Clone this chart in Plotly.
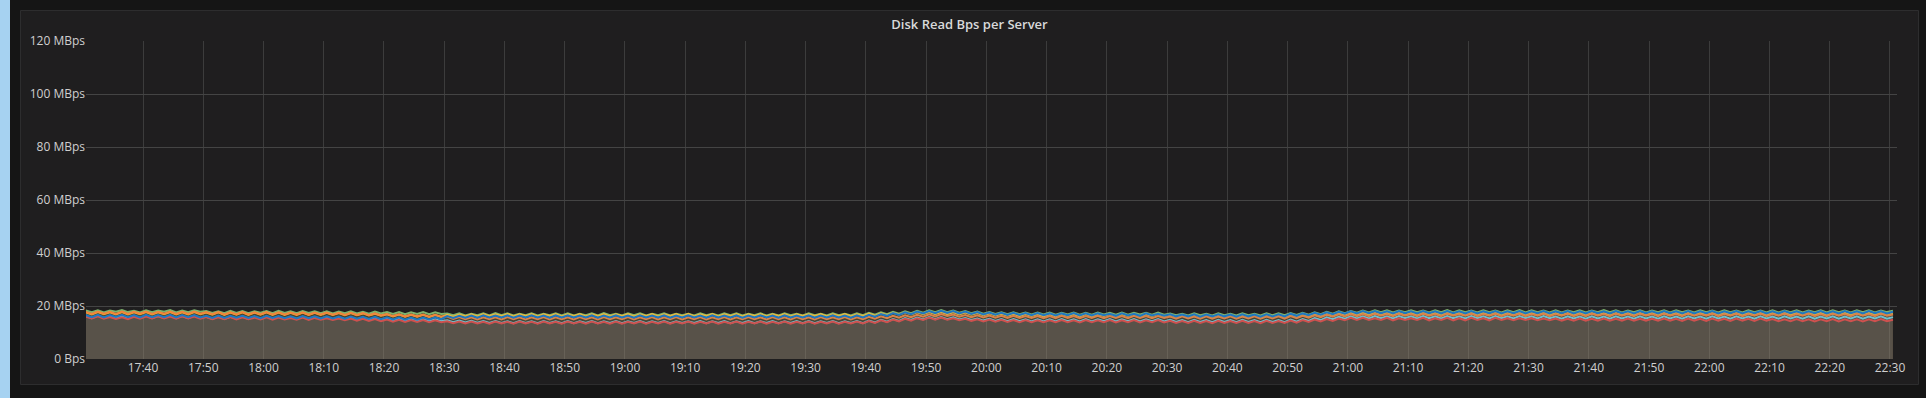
import pandas as pd
import plotly.graph_objects as go

# ---------------- data (values in tenths of MBps, one sample per minute) ----------------
start_time = "2024-01-01 17:30:30"
series_names = ["server-1", "server-2", "server-3", "server-4", "server-5", "server-6"]
series_colors = ["#7EB26D", "#EAB839", "#6ED0E0", "#EF843C", "#E24D42", "#1F78C1"]

green = [
183,177,184,176,183,178,185,177,182,176,184,177,183,178,185,176,183,177,184,178,
181,174,180,173,182,174,181,173,180,175,181,173,182,174,180,173,181,174,180,173,
180,172,179,173,180,172,178,171,179,172,177,170,177,169,176,170,177,169,176,170,
172,165,172,164,171,165,172,164,173,165,172,164,171,165,172,164,171,165,172,164,
172,164,171,165,172,164,173,165,171,164,172,165,172,164,171,165,172,164,171,165,
171,164,172,165,171,164,172,165,172,164,171,165,172,164,171,164,172,165,171,164,
172,165,171,164,172,165,171,164,172,165,174,167,176,169,178,171,180,173,182,175,
184,177,185,177,183,175,181,173,179,171,177,170,176,169,176,169,175,168,175,168,
175,167,174,168,175,167,174,167,175,168,174,167,175,167,174,168,174,167,175,167,
172,165,171,164,172,165,171,164,172,165,171,164,172,165,171,164,172,165,172,165,
173,166,174,167,176,169,178,171,180,173,181,175,183,176,184,177,184,176,183,177,
184,177,183,176,184,177,185,176,184,177,183,176,184,177,183,176,184,177,185,176,
184,177,183,176,184,176,183,177,184,176,183,177,185,177,184,176,183,177,184,176,
183,177,184,176,184,177,183,176,184,177,183,176,184,177,183,176,184,177,183,176,
184,176,183,177,184,176,183,177,184,176,184,177,183,176,184,177,184,176,183,177,
182]

yellow = [
176,168,177,169,176,168,177,168,176,169,177,168,176,169,177,168,176,168,177,169,
175,167,176,166,175,167,176,166,175,167,176,166,175,166,174,166,175,166,174,166,
174,166,173,165,173,165,172,164,171,163,169,161,168,160,167,160,167,159,166,159,
167,160,168,161,169,161,170,162,169,162,170,161,169,162,170,161,169,162,170,161,
169,162,170,161,169,162,170,161,169,162,170,161,169,162,170,161,169,162,170,161,
170,161,169,162,170,161,169,162,170,161,169,162,170,161,169,162,170,161,169,162,
169,162,170,161,169,162,170,161,169,162,171,163,172,165,174,167,175,168,176,169,
177,169,177,169,176,168,175,167,173,165,172,164,171,163,170,162,170,162,169,161,
169,161,170,162,169,161,170,161,169,162,170,161,169,162,170,161,169,162,170,161,
167,159,166,158,167,159,166,158,167,159,166,158,167,159,166,158,167,159,166,158,
168,160,169,162,171,164,173,166,174,167,175,167,175,167,174,166,175,167,174,166,
174,166,175,167,174,166,175,167,174,166,175,167,174,166,175,167,174,166,175,167,
174,166,175,167,173,165,174,166,175,167,174,166,173,165,174,166,175,167,174,166,
175,167,174,166,175,167,174,166,175,166,174,167,175,166,174,167,175,166,174,167,
174,166,175,167,174,166,175,167,174,166,175,166,174,167,175,166,174,167,175,166,
172]

cyan = [
162,154,163,155,162,154,163,154,162,155,163,154,162,155,163,154,162,154,163,155,
159,151,160,151,159,152,160,151,159,151,160,152,159,151,158,151,159,150,158,151,
158,150,157,150,156,149,155,148,154,147,153,145,152,144,151,144,151,143,150,143,
146,139,145,138,144,137,143,136,143,136,142,135,143,136,142,135,143,136,142,135,
143,135,142,136,143,135,142,136,143,135,142,136,143,135,142,136,143,135,142,136,
142,136,143,135,142,136,143,135,142,136,143,135,142,136,143,135,142,136,143,135,
143,135,142,136,143,135,142,136,143,135,145,138,148,141,151,144,154,147,156,149,
158,150,158,150,157,149,155,147,153,145,152,144,151,143,151,143,150,142,150,142,
150,142,151,143,150,142,151,142,150,143,151,142,150,143,151,142,150,143,151,142,
148,140,147,139,148,140,147,139,148,140,147,139,148,140,147,139,148,140,147,139,
149,141,151,144,154,147,157,150,159,152,161,153,161,153,162,154,161,153,162,154,
161,153,162,154,161,153,162,154,161,153,162,154,161,153,162,154,161,153,162,154,
161,153,162,154,160,152,161,153,160,152,161,153,160,152,161,153,160,152,161,153,
160,152,161,153,160,152,161,153,160,152,161,153,160,152,161,153,160,152,161,153,
160,152,161,153,160,152,161,152,160,153,161,152,160,153,161,152,160,153,161,152,
158]

orange = [
178,170,179,171,178,170,179,170,178,171,179,170,178,171,179,170,178,170,179,171,
177,169,177,168,176,169,177,168,176,169,177,168,176,168,175,168,176,167,175,168,
175,167,174,166,174,166,173,165,172,164,170,162,169,161,168,161,168,160,167,160,
160,151,158,150,157,149,157,150,157,149,158,150,157,149,157,150,158,149,157,150,
157,149,158,150,157,149,158,150,157,150,158,149,157,150,158,149,157,150,158,149,
157,150,158,149,157,150,158,149,157,150,158,150,157,149,158,150,157,149,158,150,
157,149,158,150,157,150,158,149,157,150,159,152,161,154,163,156,165,158,167,160,
169,161,170,162,168,160,166,158,165,157,164,156,163,155,163,155,162,155,162,154,
162,154,163,155,162,154,162,155,163,154,162,155,162,154,163,155,162,154,162,155,
160,152,161,153,160,152,161,152,160,153,161,152,160,153,161,152,160,153,161,152,
162,154,163,156,165,158,167,160,169,161,170,162,170,162,171,163,170,162,171,163,
170,162,171,163,170,162,171,163,170,163,171,162,170,163,171,162,170,163,171,162,
170,163,171,162,170,163,171,162,170,162,171,163,170,162,171,163,170,162,171,163,
170,162,171,163,170,162,171,163,170,163,171,162,170,163,171,162,170,163,171,162,
170,163,171,162,170,163,171,162,170,162,171,163,170,162,171,163,170,162,171,163,
168]

red = [
160,153,161,152,158,151,157,150,159,152,160,153,161,153,160,152,161,153,160,152,
158,150,157,150,158,149,157,150,156,149,157,148,156,149,155,148,156,147,155,148,
154,147,153,146,153,145,152,144,151,143,149,141,148,140,147,140,147,139,146,139,
142,135,141,134,141,134,140,133,141,134,140,133,141,134,140,133,141,134,140,133,
141,134,140,133,141,134,140,133,141,133,140,134,141,133,140,134,141,133,140,134,
141,133,140,134,141,133,140,134,141,133,140,134,141,133,140,134,141,133,140,134,
141,133,140,134,141,133,140,134,141,134,143,136,146,139,149,142,152,145,154,147,
156,148,156,148,154,146,152,144,150,142,149,141,148,140,147,139,147,139,146,139,
146,139,147,139,146,138,147,139,146,139,147,138,146,139,147,138,146,139,147,138,
144,136,143,136,144,136,143,135,144,136,143,136,144,136,143,135,144,136,143,136,
145,137,147,140,149,142,151,144,153,146,155,147,155,147,154,147,155,146,154,147,
154,147,155,146,154,147,155,146,154,146,155,147,154,146,155,147,154,146,154,147,
154,146,153,146,153,145,152,145,153,145,152,145,153,145,152,145,153,145,152,145,
152,145,153,145,152,144,153,145,152,144,153,145,152,144,153,145,152,144,153,145,
151,143,150,143,151,143,150,142,150,143,151,142,150,143,150,142,150,143,151,143,
148]

blue = [
166,158,167,157,166,159,167,158,166,157,167,158,166,158,167,157,166,158,166,157,
163,155,164,155,163,156,163,155,162,154,163,155,162,154,161,153,162,154,161,153,
161,153,160,152,160,152,159,151,159,150,157,149,157,148,156,148,156,149,157,150,
162,155,163,156,164,156,165,157,164,157,165,156,164,157,165,157,164,156,165,157,
165,157,164,157,165,156,164,157,165,157,164,156,165,157,164,157,165,156,164,157,
165,157,164,156,165,157,164,157,165,156,164,157,165,157,164,156,165,157,164,157,
165,156,164,157,165,157,164,156,165,157,167,160,170,163,173,166,176,169,179,172,
181,173,182,174,181,172,179,170,177,168,175,167,174,166,174,166,173,165,173,165,
172,164,172,165,173,164,172,164,172,165,171,163,172,164,171,163,172,164,171,163,
169,161,168,161,169,160,168,161,169,161,168,160,169,161,168,160,169,161,169,161,
171,163,172,165,174,167,176,169,178,171,180,172,181,173,181,173,180,172,181,173,
180,172,181,173,180,172,181,173,180,172,181,172,180,173,181,172,180,173,181,172,
180,173,181,172,180,173,181,172,180,172,181,173,180,172,181,173,180,172,181,173,
180,172,181,173,180,172,181,172,180,173,181,172,180,173,181,172,180,173,181,172,
180,172,181,173,180,172,180,173,181,172,180,172,181,173,180,172,181,173,180,172,
178]

series_values = [green, yellow, cyan, orange, red, blue]

y_tick_values = [0, 20, 40, 60, 80, 100, 120]
y_tick_labels = ["0 Bps", "20 MBps", "40 MBps", "60 MBps", "80 MBps", "100 MBps", "120 MBps"]

x_range = ["2024-01-01 17:30:32", "2024-01-01 22:31:10"]
title_text = "Disk Read Bps per Server"

# ---------------- styling ----------------
PAGE_BG = "#151515"
PANEL_BG = "#1f1e1f"
PANEL_BORDER = "#2d2d2e"
TEXT = "#cfcfcf"
FONT = "Open Sans"

W, H = 1926, 398
ML, MR, MT, MB = 86, 29, 41, 39
PW = W - ML - MR
PH = H - MT - MB


def hex_rgba(h, a):
    h = h.lstrip("#")
    return f"rgba({int(h[0:2],16)},{int(h[2:4],16)},{int(h[4:6],16)},{a})"


def px_x(px):
    return (px - ML) / PW


def px_y(py):
    return (H - MB - py) / PH


fig = go.Figure()
for name, color, vals in zip(series_names, series_colors, series_values):
    t = pd.date_range(start_time, periods=len(vals), freq="60s")
    fig.add_trace(go.Scatter(
        x=t, y=[v / 10 for v in vals], name=name, mode="lines",
        line=dict(color=color, width=2),
        fill="tozeroy", fillcolor=hex_rgba(color, 0.1),
        hoverinfo="skip",
    ))

shapes = [
    # left blue strip (screen edge)
    dict(type="rect", xref="paper", yref="paper", x0=px_x(0), x1=px_x(10),
         y0=px_y(H + 5), y1=px_y(-5), fillcolor="#a6d2f1", line=dict(width=0), layer="below"),
    # panel
    dict(type="rect", xref="paper", yref="paper", x0=px_x(20.5), x1=px_x(1918.5),
         y0=px_y(384.5), y1=px_y(10.5), fillcolor=PANEL_BG,
         line=dict(color=PANEL_BORDER, width=1), layer="below"),
]

fig.update_layout(
    width=W, height=H,
    margin=dict(l=ML, r=MR, t=MT, b=MB, pad=0),
    paper_bgcolor=PAGE_BG, plot_bgcolor=PANEL_BG,
    showlegend=False, hovermode=False,
    font=dict(family=FONT, size=12, color=TEXT),
    title=dict(text=title_text, x=969.5 / W, xanchor="center", xref="container",
               y=1 - 24 / H, yanchor="middle", yref="container",
               font=dict(family=FONT, size=13, color="#d8d9da", weight=600)),
    shapes=shapes,
    xaxis=dict(type="date", range=x_range, tickformat="%H:%M",
               dtick=600000, tick0="2024-01-01 17:40:00",
               showgrid=True, gridcolor="#3c3c3c", gridwidth=1,
               zeroline=False, showline=False, ticks="",
               tickfont=dict(size=12, color=TEXT)),
    yaxis=dict(range=[0, 120], tickvals=y_tick_values, ticktext=y_tick_labels,
               showgrid=True, gridcolor="#444444", gridwidth=1,
               zeroline=False, showline=False, ticks="",
               tickfont=dict(size=12, color=TEXT)),
)

fig.write_html(
    "out.html",
    config={"displayModeBar": False},
    post_script=("document.body.style.margin='0';"
                 "document.body.style.padding='0';"
                 "document.body.style.overflow='hidden';"
                 "document.body.style.background='#151515';"),
)
